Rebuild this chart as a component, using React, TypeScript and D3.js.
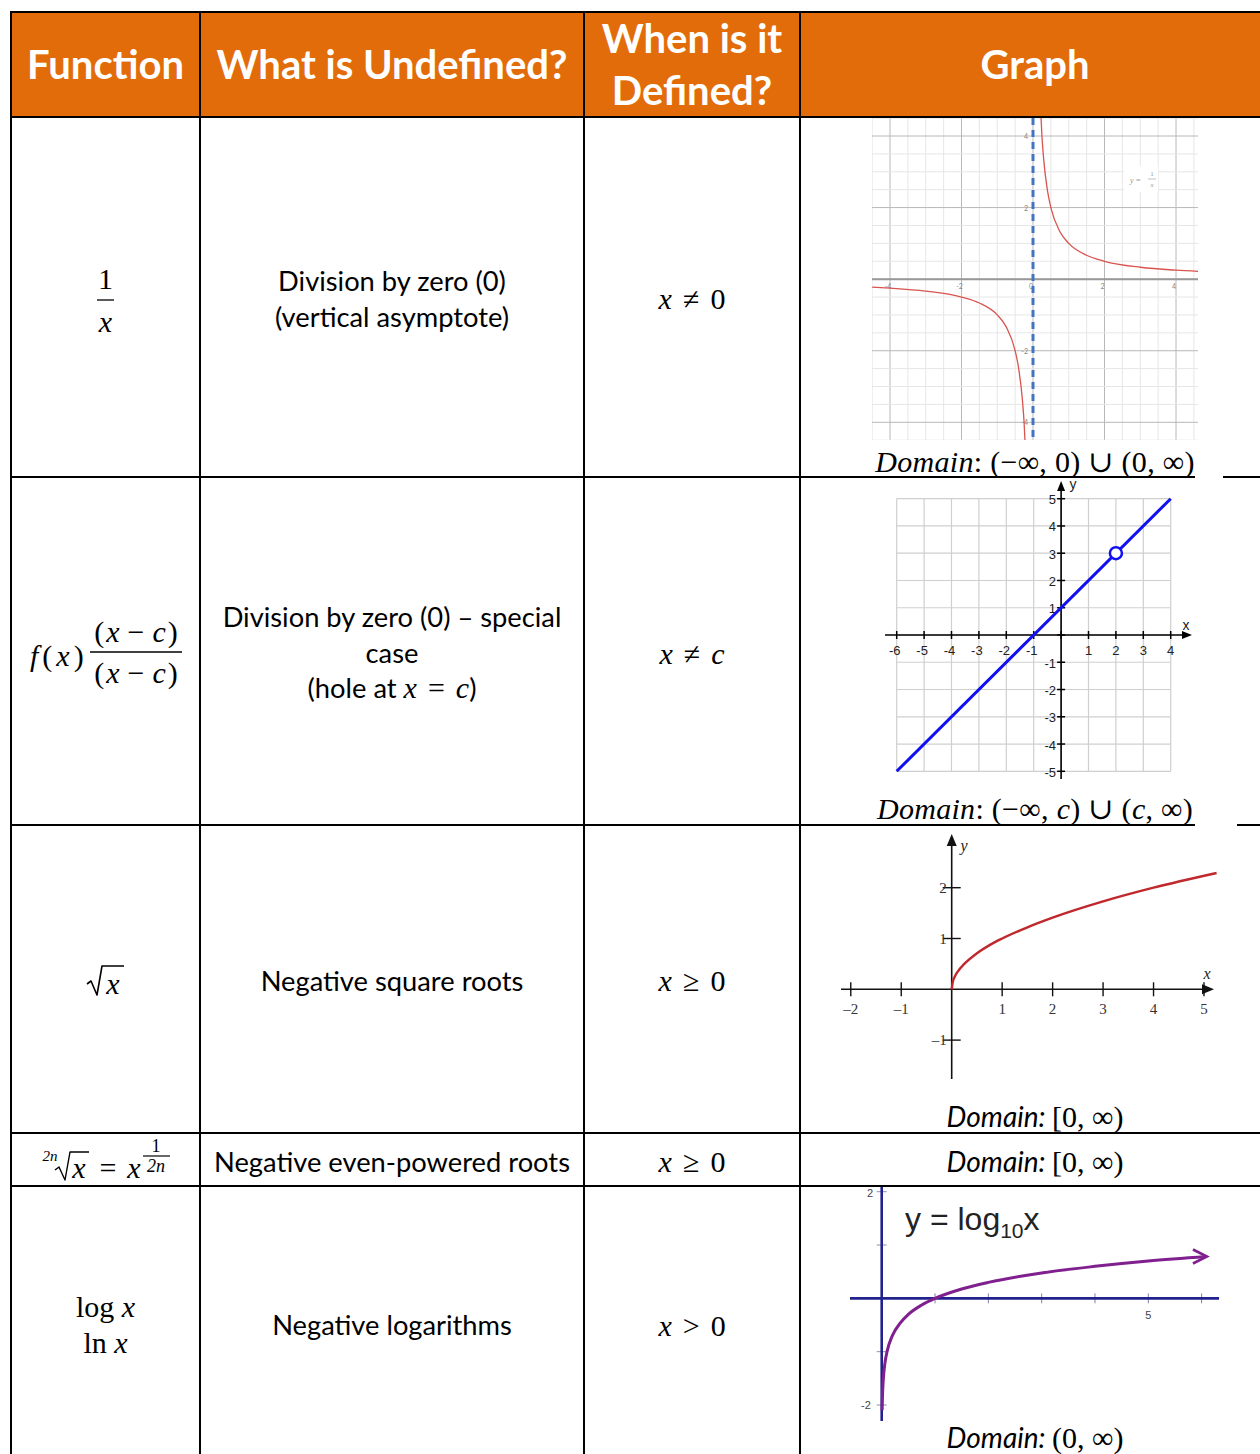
import React from 'react'
import * as d3 from 'd3'

const SANS = "Lato, 'Open Sans', sans-serif"
const MATH = "'Liberation Serif', 'DejaVu Serif', serif"
const ORANGE = '#e36c0a'

// table grid
const colEdges = [11, 200, 584, 800, 1272]
const rowEdges = [12, 117, 477, 825, 1133, 1186, 1470]

// graph 1: y = 1/x
const recipXTicks = [-4, -2, 0, 2, 4]
const recipYTicks = [4, 2, -2, -4]
const recipNeg: [number, number][] = [[-4.5, -0.222], [-4, -0.25], [-3, -0.333], [-2, -0.5], [-1.5, -0.667], [-1, -1], [-0.75, -1.333], [-0.5, -2], [-0.4, -2.5], [-0.3, -3.333], [-0.25, -4], [-0.2, -5]]
const recipPos: [number, number][] = [[0.2, 5], [0.25, 4], [0.3, 3.333], [0.4, 2.5], [0.5, 2], [0.75, 1.333], [1, 1], [1.5, 0.667], [2, 0.5], [3, 0.333], [4, 0.25], [4.7, 0.213]]

// graph 2: line with a hole
const lineXTicks = [-6, -5, -4, -3, -2, -1, 1, 2, 3, 4]
const lineYTicks = [5, 4, 3, 2, 1, -1, -2, -3, -4, -5]
const linePoints: [number, number][] = [[-6, -5], [4, 5]]
const holePoint: [number, number] = [2, 3]

// graph 3: sqrt
const sqrtXTicks = [-2, -1, 1, 2, 3, 4, 5]
const sqrtYTicks = [2, 1, -1]
const sqrtPoints: [number, number][] = [[0, 0], [0.02, 0.14], [0.06, 0.245], [0.12, 0.35], [0.25, 0.5], [0.5, 0.71], [0.75, 0.87], [1, 1], [1.5, 1.22], [2, 1.41], [3, 1.73], [4, 2], [5.25, 2.29]]

// graph 5: log10
const logXTicks = [1, 2, 3, 4, 5, 6]
const logYTicks = [2, 1, -1, -2]
const logPoints: [number, number][] = [[0.008, -2.1], [0.015, -1.82], [0.03, -1.52], [0.06, -1.22], [0.1, -1], [0.2, -0.7], [0.35, -0.46], [0.5, -0.3], [0.75, -0.125], [1, 0], [1.5, 0.176], [2, 0.3], [3, 0.477], [4, 0.6], [5, 0.7], [6.1, 0.785]]

const mid = (i: number) => (colEdges[i] + colEdges[i + 1]) / 2

function RecipGraph() {
  const x = d3.scaleLinear().domain([-4, 4]).range([890, 1176])
  const y = d3.scaleLinear().domain([4, -4]).range([136, 422.3])
  const line = d3.line<[number, number]>().x(d => x(d[0])).y(d => y(d[1])).curve(d3.curveMonotoneX)
  const minor = d3.range(-4.5, 5, 0.5)
  return (
    <g>
      <clipPath id="clip1"><rect x={872} y={118} width={326} height={322} /></clipPath>
      <g clipPath="url(#clip1)">
        <rect x={872} y={118} width={326} height={322} fill="#fff" />
        {minor.map(v => <line key={'vx' + v} x1={x(v)} x2={x(v)} y1={118} y2={440} stroke={v % 2 === 0 ? '#b8b8b8' : '#e6e6e6'} strokeWidth={1} />)}
        {minor.map(v => <line key={'hy' + v} y1={y(v)} y2={y(v)} x1={872} x2={1198} stroke={v % 2 === 0 ? '#b8b8b8' : '#e6e6e6'} strokeWidth={1} />)}
        <line x1={872} x2={1198} y1={y(0)} y2={y(0)} stroke="#999" strokeWidth={2} />
        {recipXTicks.map(t => <text key={'xl' + t} x={x(t) - 2} y={y(0) + 7} fontSize={7} fill="#888" fontFamily={SANS} textAnchor="middle" dominantBaseline="central">{t}</text>)}
        {recipYTicks.map(t => <text key={'yl' + t} x={x(0) - 5} y={y(t)} fontSize={7} fill="#888" fontFamily={SANS} textAnchor="end" dominantBaseline="central">{t}</text>)}
        <path d={line(recipNeg) || ''} fill="none" stroke="#d9534f" strokeWidth={1.3} />
        <path d={line(recipPos) || ''} fill="none" stroke="#d9534f" strokeWidth={1.3} />
        <line x1={x(0)} x2={x(0)} y1={118} y2={440} stroke="#4472c4" strokeWidth={3} strokeDasharray="7,5" />
        <rect x={1124} y={166} width={34} height={26} fill="#fff" />
        <text x={1130} y={180} fontSize={8} fill="#999" fontFamily={MATH} fontStyle="italic" dominantBaseline="central">y =</text>
        <text x={1152} y={174} fontSize={7} fill="#999" fontFamily={MATH} textAnchor="middle" dominantBaseline="central">1</text>
        <line x1={1148} x2={1156} y1={179} y2={179} stroke="#aaa" strokeWidth={0.7} />
        <text x={1152} y={185} fontSize={7} fill="#999" fontFamily={MATH} fontStyle="italic" textAnchor="middle" dominantBaseline="central">x</text>
      </g>
    </g>
  )
}

function LineGraph() {
  const x = d3.scaleLinear().domain([-6, 4]).range([896.7, 1170.7])
  const y = d3.scaleLinear().domain([-5, 5]).range([771.3, 498.7])
  const line = d3.line<[number, number]>().x(d => x(d[0])).y(d => y(d[1]))
  const gx = d3.range(-6, 5)
  const gy = d3.range(-5, 6)
  const font = "'Liberation Sans', Arial, sans-serif"
  return (
    <g>
      {gx.map(v => <line key={'gx' + v} x1={x(v)} x2={x(v)} y1={y(5)} y2={y(-5)} stroke="#cfcfcf" strokeWidth={1.2} />)}
      {gy.map(v => <line key={'gy' + v} y1={y(v)} y2={y(v)} x1={x(-6)} x2={x(4)} stroke="#cfcfcf" strokeWidth={1.2} />)}
      <line x1={885} x2={1184} y1={y(0)} y2={y(0)} stroke="#000" strokeWidth={1.6} />
      <path d={`M1192,${y(0)} L1182,${y(0) - 4} L1182,${y(0) + 4} Z`} fill="#000" />
      <line x1={x(0)} x2={x(0)} y1={488} y2={779} stroke="#000" strokeWidth={1.6} />
      <path d={`M${x(0)},481 L${x(0) - 4},491 L${x(0) + 4},491 Z`} fill="#000" />
      {gx.map(v => <line key={'tx' + v} x1={x(v)} x2={x(v)} y1={y(0) - 4} y2={y(0) + 4} stroke="#000" strokeWidth={1.5} />)}
      {gy.map(v => <line key={'ty' + v} y1={y(v)} y2={y(v)} x1={x(0) - 4} x2={x(0) + 4} stroke="#000" strokeWidth={1.5} />)}
      {lineXTicks.map(t => <text key={'lx' + t} x={x(t) - (t < 0 ? 2 : 0)} y={y(0) + 15} fontSize={13} fill="#222" fontFamily={font} textAnchor="middle" dominantBaseline="central">{t}</text>)}
      {lineYTicks.map(t => <text key={'ly' + t} x={x(0) - 5} y={y(t) + 1} fontSize={13} fill="#222" fontFamily={font} textAnchor="end" dominantBaseline="central">{t}</text>)}
      <text x={1186} y={625} fontSize={14} fill="#222" fontFamily={font} textAnchor="middle" dominantBaseline="central">x</text>
      <text x={1073} y={484} fontSize={14} fill="#222" fontFamily={font} textAnchor="middle" dominantBaseline="central">y</text>
      <path d={line(linePoints) || ''} fill="none" stroke="#1010f0" strokeWidth={3} />
      <circle cx={x(holePoint[0])} cy={y(holePoint[1])} r={6} fill="#fff" stroke="#1010f0" strokeWidth={2.5} />
    </g>
  )
}

function SqrtGraph() {
  const x = d3.scaleLinear().domain([0, 5]).range([951.7, 1204])
  const y = d3.scaleLinear().domain([0, 2]).range([989.3, 887.7])
  const line = d3.line<[number, number]>().x(d => x(d[0])).y(d => y(d[1])).curve(d3.curveMonotoneX)
  const serif = "'Liberation Serif', 'Times New Roman', serif"
  const fmt = (t: number) => (t < 0 ? '\u2013' + Math.abs(t) : String(t))
  return (
    <g>
      <line x1={841} x2={1205} y1={y(0)} y2={y(0)} stroke="#111" strokeWidth={1.6} />
      <path d={`M1214,${y(0)} L1202,${y(0) - 5} L1202,${y(0) + 5} Z`} fill="#111" />
      <line x1={x(0)} x2={x(0)} y1={842} y2={1079} stroke="#111" strokeWidth={1.6} />
      <path d={`M${x(0)},834 L${x(0) - 5},846 L${x(0) + 5},846 Z`} fill="#111" />
      {sqrtXTicks.map(t => <line key={'tx' + t} x1={x(t)} x2={x(t)} y1={y(0) - 7} y2={y(0) + 7} stroke="#111" strokeWidth={1.4} />)}
      {sqrtYTicks.map(t => <line key={'ty' + t} y1={y(t)} y2={y(t)} x1={x(0) - 9} x2={x(0) + 9} stroke="#111" strokeWidth={1.4} />)}
      {sqrtXTicks.map(t => <text key={'lx' + t} x={x(t)} y={y(0) + 20} fontSize={15} fill="#333" fontFamily={serif} textAnchor="middle" dominantBaseline="central">{fmt(t)}</text>)}
      {sqrtYTicks.map(t => <text key={'ly' + t} x={x(0) - 5} y={y(t)} fontSize={15} fill="#333" fontFamily={serif} textAnchor="end" dominantBaseline="central">{fmt(t)}</text>)}
      <text x={1207} y={973} fontSize={16} fill="#222" fontFamily={serif} fontStyle="italic" textAnchor="middle" dominantBaseline="central">x</text>
      <text x={964} y={845} fontSize={16} fill="#222" fontFamily={serif} fontStyle="italic" textAnchor="middle" dominantBaseline="central">y</text>
      <path d={line(sqrtPoints) || ''} fill="none" stroke="#c0282d" strokeWidth={2.4} />
    </g>
  )
}

function LogGraph() {
  const x = d3.scaleLinear().domain([0, 5]).range([881.7, 1148.3])
  const y = d3.scaleLinear().domain([2, -2]).range([1191.7, 1405])
  const line = d3.line<[number, number]>().x(d => x(d[0])).y(d => y(d[1])).curve(d3.curveMonotoneX)
  const navy = '#22228c'
  const font = "'Liberation Sans', Arial, sans-serif"
  const last = logPoints[logPoints.length - 1]
  return (
    <g>
      {logXTicks.map(t => <line key={'tx' + t} x1={x(t)} x2={x(t)} y1={y(0) - 5} y2={y(0) + 5} stroke="#8080b0" strokeWidth={1} />)}
      {logYTicks.map(t => <line key={'ty' + t} y1={y(t)} y2={y(t)} x1={x(0) - 5} x2={x(0) + 5} stroke="#9090b0" strokeWidth={1} />)}
      <line x1={850} x2={1219} y1={y(0)} y2={y(0)} stroke={navy} strokeWidth={2.6} />
      <line x1={x(0)} x2={x(0)} y1={1187} y2={1421} stroke={navy} strokeWidth={2.6} />
      <text x={870} y={1193} fontSize={11} fill="#444" fontFamily={font} textAnchor="middle" dominantBaseline="central">2</text>
      <text x={866} y={1405} fontSize={11} fill="#444" fontFamily={font} textAnchor="middle" dominantBaseline="central">-2</text>
      <text x={x(5)} y={1315} fontSize={11} fill="#444" fontFamily={font} textAnchor="middle" dominantBaseline="central">5</text>
      <path d={line(logPoints) || ''} fill="none" stroke="#80208f" strokeWidth={3} />
      <path d={`M${x(last[0]) - 14},${y(last[1]) - 7} L${x(last[0])},${y(last[1])} L${x(last[0]) - 14},${y(last[1]) + 7}`} fill="none" stroke="#80208f" strokeWidth={2.6} />
      <text x={905} y={1230} fontSize={32} fill="#222" fontFamily={font}>y = log<tspan fontSize={21} dy={8}>10</tspan><tspan dy={-8}>x</tspan></text>
    </g>
  )
}

const BODY = 27.3
const MSIZE = 30

function SansText({ x, y, children }: { x: number, y: number, children: React.ReactNode }) {
  return <text x={x} y={y} fontSize={BODY} fontFamily={SANS} fill="#000" textAnchor="middle" dominantBaseline="central">{children}</text>
}

function MathText({ x, y, size = MSIZE, anchor = 'middle', spacing = 0, children }: { x: number, y: number, size?: number, anchor?: string, spacing?: number, children: React.ReactNode }) {
  return <text x={x} y={y} fontSize={size} fontFamily={MATH} fill="#000" textAnchor={anchor as any} letterSpacing={spacing} dominantBaseline="central">{children}</text>
}

const I = ({ children }: { children: React.ReactNode }) => <tspan fontStyle="italic">{children}</tspan>
// relation with thick spaces around it, like Cambria Math
const Rel = ({ children }: { children: React.ReactNode }) => <tspan dx={11}>{children}</tspan>
const After = ({ children, italic = false }: { children: React.ReactNode, italic?: boolean }) => <tspan dx={11} fontStyle={italic ? 'italic' : 'normal'}>{children}</tspan>

function DomainSans({ y, value }: { y: number, value: string }) {
  return (
    <text x={1035} y={y} fontSize={28} textAnchor="middle" dominantBaseline="central">
      <tspan fontFamily={SANS} fontStyle="italic">Domain: </tspan>
      <tspan fontFamily={MATH} fontSize={MSIZE}>{value}</tspan>
    </text>
  )
}

export default function App() {
  const c0 = mid(0), c1 = mid(1), c2 = mid(2), c3 = 1035
  return (
    <div style={{ position: 'absolute', left: 0, top: 0 }}>
      <svg width={1260} height={1454} style={{ display: 'block', background: '#fff' }}>
        <rect x={colEdges[0]} y={rowEdges[0]} width={1270} height={rowEdges[1] - rowEdges[0]} fill={ORANGE} />
        <g fill="#fff" fontFamily={SANS} fontWeight={700} fontSize={40} textAnchor="middle">
          <text x={c0} y={64} dominantBaseline="central">Function</text>
          <text x={c1} y={64} dominantBaseline="central">What is Undefined?</text>
          <text x={c2} y={38} dominantBaseline="central">When is it</text>
          <text x={c2} y={90} dominantBaseline="central">Defined?</text>
          <text x={c3} y={64} dominantBaseline="central">Graph</text>
        </g>

        <RecipGraph />
        <LineGraph />
        <SqrtGraph />
        <LogGraph />

        {/* borders */}
        {colEdges.slice(0, 4).map(cx => <line key={'c' + cx} x1={cx} x2={cx} y1={rowEdges[0] - 1} y2={1454} stroke="#000" strokeWidth={2} />)}
        {rowEdges.slice(0, 6).map(ry => <line key={'r' + ry} x1={colEdges[0] - 1} x2={1260} y1={ry} y2={ry} stroke="#000" strokeWidth={2} />)}
        <rect x={1195} y={475} width={28} height={4} fill="#fff" />
        <rect x={1195} y={823} width={42} height={4} fill="#fff" />

        {/* row 1 */}
        <MathText x={c0} y={278}>1</MathText>
        <line x1={97} x2={114} y1={300} y2={300} stroke="#000" strokeWidth={1.3} />
        <MathText x={c0} y={321}><I>x</I></MathText>
        <SansText x={c1} y={280}>Division by zero (0)</SansText>
        <SansText x={c1} y={316}>(vertical asymptote)</SansText>
        <MathText x={c2} y={298}><I>x</I><Rel>≠</Rel><After>0</After></MathText>
        <MathText x={c3} y={461} spacing={0.3}><I>Domain</I>: (−∞, 0) ∪ (0, ∞)</MathText>

        {/* row 2 */}
        <MathText x={30} y={655} anchor="start" spacing={4}><I>f</I>(<I>x</I>)</MathText>
        <MathText x={137} y={631} spacing={2}>(<I>x</I><tspan dx={6}>−</tspan><tspan dx={6} fontStyle="italic">c</tspan>)</MathText>
        <line x1={90} x2={182} y1={652} y2={652} stroke="#000" strokeWidth={1.3} />
        <MathText x={137} y={672} spacing={2}>(<I>x</I><tspan dx={6}>−</tspan><tspan dx={6} fontStyle="italic">c</tspan>)</MathText>
        <SansText x={c1} y={616}>Division by zero (0) – special</SansText>
        <SansText x={c1} y={652}>case</SansText>
        <text x={c1} y={687} fontSize={BODY} fontFamily={SANS} textAnchor="middle" dominantBaseline="central">(hole at <tspan fontFamily={MATH} fontSize={MSIZE}><I>x</I><Rel>=</Rel><After italic>c</After></tspan>)</text>
        <MathText x={c2} y={653}><I>x</I><Rel>≠</Rel><After italic>c</After></MathText>
        <MathText x={c3} y={808} spacing={0.3}><I>Domain</I>: (−∞, <I>c</I>) ∪ (<I>c</I>, ∞)</MathText>

        {/* row 3 */}
        <path d="M87,984 L91,981 L97,995 L102,966 L124,966" fill="none" stroke="#000" strokeWidth={1.6} strokeLinejoin="round" />
        <MathText x={113} y={983}><I>x</I></MathText>
        <SansText x={c1} y={980}>Negative square roots</SansText>
        <MathText x={c2} y={980}><I>x</I><Rel>≥</Rel><After>0</After></MathText>
        <DomainSans y={1116} value="[0, ∞)" />

        {/* row 4 */}
        <text x={50} y={1156} fontSize={15} fontFamily={MATH} fontStyle="italic" textAnchor="middle" dominantBaseline="central">2n</text>
        <path d="M55,1170 L59,1167 L65,1180 L70,1152 L89,1152" fill="none" stroke="#000" strokeWidth={1.4} strokeLinejoin="round" />
        <MathText x={79} y={1167}><I>x</I></MathText>
        <MathText x={108} y={1167}>=</MathText>
        <MathText x={134} y={1167}><I>x</I></MathText>
        <MathText x={156} y={1146} size={18}>1</MathText>
        <line x1={143} x2={170} y1={1156} y2={1156} stroke="#000" strokeWidth={1.2} />
        <MathText x={156} y={1166} size={18}><I>2n</I></MathText>
        <SansText x={c1} y={1161}>Negative even-powered roots</SansText>
        <MathText x={c2} y={1161}><I>x</I><Rel>≥</Rel><After>0</After></MathText>
        <DomainSans y={1161} value="[0, ∞)" />

        {/* row 5 */}
        <MathText x={c0} y={1306}>log <I>x</I></MathText>
        <MathText x={c0} y={1342}>ln <I>x</I></MathText>
        <SansText x={c1} y={1324}>Negative logarithms</SansText>
        <MathText x={c2} y={1325}><I>x</I><Rel>&gt;</Rel><After>0</After></MathText>
        <DomainSans y={1437} value="(0, ∞)" />
      </svg>
    </div>
  )
}
